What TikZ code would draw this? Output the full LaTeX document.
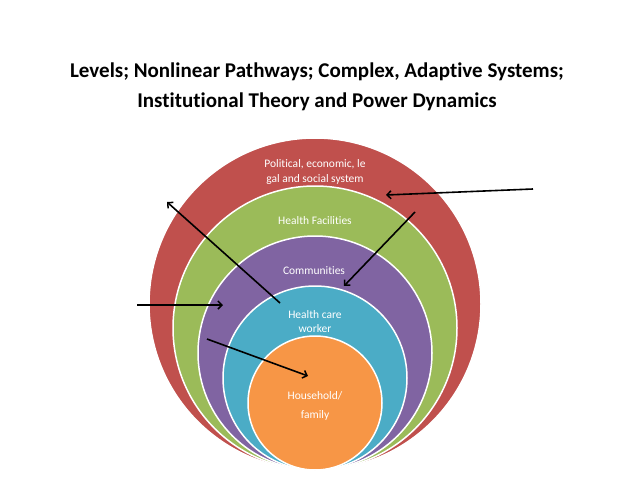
\documentclass[tikz,border=0pt]{standalone}
\usepackage{fontspec}
\setmainfont[Ligatures={NoCommon}]{Carlito}
\usetikzlibrary{arrows.meta}
\definecolor{cred}{HTML}{C0504D}
\definecolor{cgreen}{HTML}{9BBB59}
\definecolor{cpurple}{HTML}{8064A2}
\definecolor{cblue}{HTML}{4BACC6}
\definecolor{corange}{HTML}{F79646}
\tikzset{
  ring/.style={circle, draw=white, line width=1.5pt, inner sep=0pt, minimum size=#1},
  lbl/.style={text=white, font=\fontsize{11.5}{14}\selectfont, align=center, inner sep=0pt},
  arr/.style={line width=1.6pt, -{Straight Barb[length=4pt,width=8pt,line width=1.5pt]}},
}
\begin{document}
\begin{tikzpicture}[x=1pt,y=-1pt]
\useasboundingbox (0,0) rectangle (638,479);
\node[ring=332pt, fill=cred] (red) at (315,304) {};
\node[ring=284pt, fill=cgreen] (green) at (315,328) {};
\node[ring=234pt, fill=cpurple] (purple) at (315,353) {};
\node[ring=184pt, fill=cblue] (blue) at (315,378) {};
\node[ring=134pt, fill=corange] (orange) at (315,403) {};

\node[font=\fontsize{21}{30}\selectfont\bfseries, align=center] (title) at (317,87)
  {Levels; Nonlinear Pathways; Complex, Adaptive Systems;\\Institutional Theory and Power Dynamics};

\node[lbl, font=\fontsize{11.5}{15}\selectfont] (t1) at (315,172) {Political, economic, le\\gal and social system};
\node[lbl] (t2) at (315,221) {Health Facilities};
\node[lbl] (t3) at (314,271) {Communities};
\node[lbl, font=\fontsize{11.5}{14}\selectfont] (t4) at (315,322) {Health care\\worker};
\node[lbl, font=\fontsize{11.5}{19}\selectfont] (t5) at (315,406) {Household/\\family};

\coordinate (a1s) at (533,189); \coordinate (a1e) at (386,195);
\coordinate (a2s) at (415,212); \coordinate (a2e) at (344,286);
\coordinate (a3s) at (280,303); \coordinate (a3e) at (167,202);
\coordinate (a4s) at (137,305); \coordinate (a4e) at (223,305);
\coordinate (a5s) at (207,339); \coordinate (a5e) at (308,376);
\draw[arr] (a1s) -- (a1e);
\draw[arr] (a2s) -- (a2e);
\draw[arr] (a3s) -- (a3e);
\draw[arr] (a4s) -- (a4e);
\draw[arr] (a5s) -- (a5e);
\end{tikzpicture}
\end{document}
